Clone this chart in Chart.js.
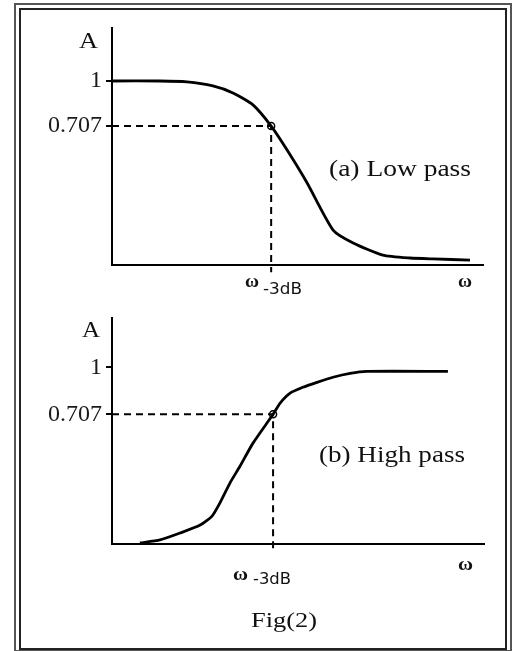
<!DOCTYPE html>
<html>
<head>
<meta charset="utf-8">
<script src="https://cdn.jsdelivr.net/npm/chart.js@4/dist/chart.umd.min.js"></script>
<style>
  body { margin: 0; background: #fff; }
  #wrap { position: relative; width: 512px; height: 651px; overflow: hidden; }
  .frame { position: absolute; box-sizing: border-box; }
  #outer { left: 14px; top: 3px; width: 498px; height: 649px; border: 2px solid #555; }
  #inner { left: 19px; top: 8px; width: 488px; height: 642px; border: 2px solid #222; }
  canvas { position: absolute; left: 0; }
</style>
</head>
<body>
<div id="wrap">
  <div class="frame" id="outer"></div>
  <div class="frame" id="inner"></div>
  <canvas id="lowPass" width="512" height="300" style="top:0"></canvas>
  <canvas id="highPass" width="512" height="351" style="top:300px"></canvas>
</div>
<script>
const lowOmega = [0, 12.9, 20.2, 27.2, 32.6, 38.0, 42.9, 47.2, 52.6, 59.6, 65.0, 73.0, 80.3, 86.5, 96.5];
const lowA     = [1.0, 1.0, 0.995, 0.973, 0.935, 0.870, 0.755, 0.625, 0.446, 0.190, 0.120, 0.054, 0.038, 0.033, 0.027];
const highOmega = [7.5, 12.9, 18.3, 23.7, 26.9, 29.0, 31.7, 34.4, 37.9, 43.3, 45.2, 47.8, 51.3, 55.1, 59.4, 64.0, 68.5, 90.3];
const highA     = [0.006, 0.023, 0.062, 0.107, 0.158, 0.232, 0.345, 0.44, 0.571, 0.734, 0.798, 0.853, 0.887, 0.915, 0.944, 0.966, 0.977, 0.977];

// the drawing is not to scale: where each tick sits, and what it says
const lowTickPos = [1, 0.755];
const highTickPos = [1, 0.734];
const tickLabels = ['1', '0.707'];
const lowCutoff = 42.9;
const highCutoff = 43.3;

const serif = '"Liberation Serif", "Times New Roman", serif';
const sans = '"DejaVu Sans", sans-serif';

function pts(xs, ys) { return xs.map((x, i) => ({ x: x, y: ys[i] })); }

// the original text is a little wider than Times, so squeeze/stretch to width
function fitText(c, text, x, y, font, w) {
  c.save();
  c.font = font;
  const k = w / c.measureText(text).width;
  c.translate(x, y);
  c.scale(k, 1);
  c.fillText(text, 0, 0);
  c.restore();
}

function makeChart(id, o) {
  const guide = [{ x: 0, y: o.tickPos[1] }, { x: o.cutoff, y: o.tickPos[1] }, { x: o.cutoff, y: -o.below }];
  new Chart(document.getElementById(id), {
    type: 'line',
    data: {
      datasets: [
        { data: pts(o.xs, o.ys), borderColor: '#000', borderWidth: 2.8, pointRadius: 0, tension: 0.2, fill: false },
        { data: guide, borderColor: '#000', borderWidth: 2, borderDash: [7, 5], pointRadius: 0, tension: 0, clip: false },
        { data: [{ x: o.cutoff, y: o.tickPos[1] }], showLine: false, pointRadius: 3.5, borderWidth: 1.5,
          pointBackgroundColor: '#fff', pointBorderColor: '#000' }
      ]
    },
    options: {
      responsive: false,
      animation: false,
      layout: { padding: { top: o.top, right: o.right, left: 0, bottom: 0 } },
      plugins: { legend: { display: false }, tooltip: { enabled: false } },
      scales: {
        x: {
          type: 'linear', min: 0, max: 100,
          grid: { display: false },
          border: { display: true, color: '#000', width: 2 },
          ticks: { display: false },
          afterFit: s => { s.height = o.xHeight; }
        },
        y: {
          min: 0, max: o.yMax,
          afterBuildTicks: s => { s.ticks = o.tickPos.map(v => ({ value: v })); },
          ticks: {
            callback: (v, i) => tickLabels[i],
            color: '#1a1a1a', padding: 4,
            font: { family: serif, size: 24 }
          },
          grid: { display: true, drawOnChartArea: false, drawTicks: true, tickLength: 6, color: '#000', lineWidth: 2 },
          border: { display: true, color: '#000', width: 2 },
          afterFit: s => { s.width = 112; }
        }
      }
    },
    plugins: [{
      id: 'texts',
      afterDraw(chart) {
        const c = chart.ctx;
        c.save();
        c.fillStyle = '#111';
        c.textBaseline = 'alphabetic';
        c.textAlign = 'left';
        o.texts.forEach(t => fitText(c, t[0], t[1], t[2], t[3], t[4]));
        c.restore();
      }
    }]
  });
}

makeChart('lowPass', {
  xs: lowOmega, ys: lowA, tickPos: lowTickPos, cutoff: lowCutoff, below: 0.04,
  top: 28, right: 29, xHeight: 35, yMax: 1.288,
  texts: [
    ['A', 79, 48, '23px ' + serif, 19],
    ['(a) Low pass', 329, 176, '24px ' + serif, 142],
    ['ω', 245, 287, 'bold 18px ' + serif, 14],
    ['-3dB', 263, 294, '16px ' + sans, 39],
    ['ω', 458, 287, 'bold 18px ' + serif, 14]
  ]
});
makeChart('highPass', {
  xs: highOmega, ys: highA, tickPos: highTickPos, cutoff: highCutoff, below: 0.03,
  top: 18, right: 28, xHeight: 107, yMax: 1.277,
  texts: [
    ['A', 82, 37, '23px ' + serif, 18],
    ['(b) High pass', 319, 162, '24px ' + serif, 146],
    ['ω', 233, 280, 'bold 18px ' + serif, 15],
    ['-3dB', 253, 284, '16px ' + sans, 38],
    ['ω', 458, 270, 'bold 18px ' + serif, 15],
    ['Fig(2)', 251, 327, '22px ' + serif, 66]
  ]
});
</script>
</body>
</html>
